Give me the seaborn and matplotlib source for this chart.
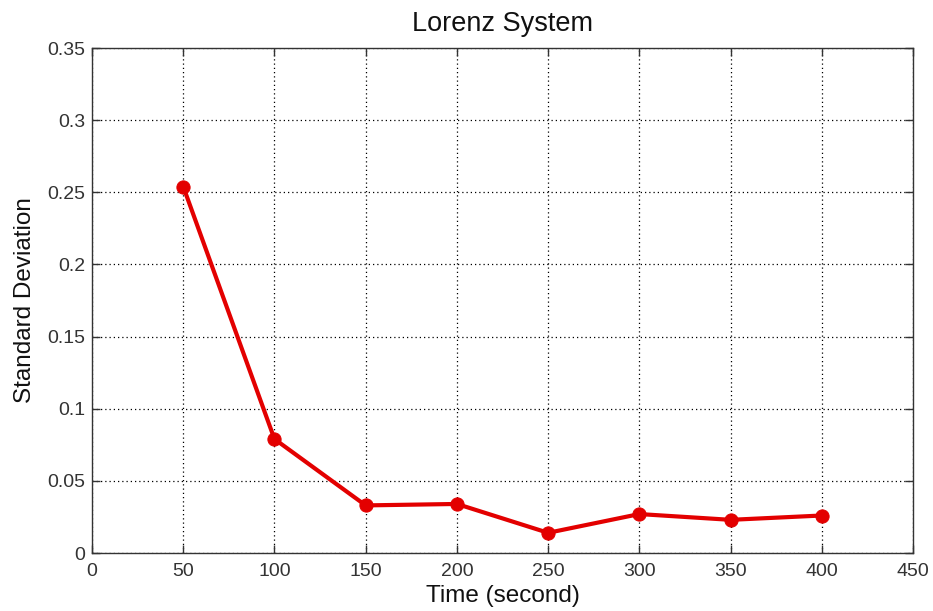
import matplotlib
matplotlib.use("Agg")
import matplotlib.pyplot as plt
import seaborn as sns
import pandas as pd

# Standard deviation of the Lorenz system estimate over observation time
time_s = [50, 100, 150, 200, 250, 300, 350, 400]
std_dev = [0.254, 0.079, 0.033, 0.034, 0.014, 0.027, 0.023, 0.026]

x_ticks = [0, 50, 100, 150, 200, 250, 300, 350, 400, 450]
y_ticks = [0, 0.05, 0.1, 0.15, 0.2, 0.25, 0.3, 0.35]
y_tick_labels = ["0", "0.05", "0.1", "0.15", "0.2", "0.25", "0.3", "0.35"]

df = pd.DataFrame({"time": time_s, "std": std_dev})

sns.set_theme(style="white")
plt.rcParams["font.family"] = ["Liberation Sans", "DejaVu Sans"]

fig = plt.figure(figsize=(9.33, 6.11), dpi=100)
ax = fig.add_axes([0.0986, 0.0949, 0.88, 0.8265])

sns.lineplot(data=df, x="time", y="std", ax=ax, color="#e30000",
             linewidth=3.0, marker="o", markersize=9.5,
             markeredgecolor="#e30000", markerfacecolor="#e30000")

ax.set_xlim(0, 450)
ax.set_ylim(0, 0.35)
ax.set_xticks(x_ticks)
ax.set_xticklabels([str(t) for t in x_ticks])
ax.set_yticks(y_ticks)
ax.set_yticklabels(y_tick_labels)

ax.grid(True, color="black", linestyle=(0, (1, 2.4)), linewidth=0.9)
ax.tick_params(direction="in", length=6, width=1, colors="#333333",
               labelsize=14, top=True, right=True, bottom=True, left=True,
               labelcolor="#333333")
ax.tick_params(axis="x", pad=7)
ax.tick_params(axis="y", pad=5)
for sp in ax.spines.values():
    sp.set_color("#333333")
    sp.set_linewidth(1.0)
    sp.set_visible(True)

ax.set_xlabel("Time (second)", fontsize=17.5, color="#111111", labelpad=4)
ax.set_ylabel("Standard Deviation", fontsize=17.5, color="#111111", labelpad=8)
ax.set_title("Lorenz System", fontsize=19.5, color="#111111", pad=12)

fig.savefig("out.png", dpi=100, facecolor="white")
